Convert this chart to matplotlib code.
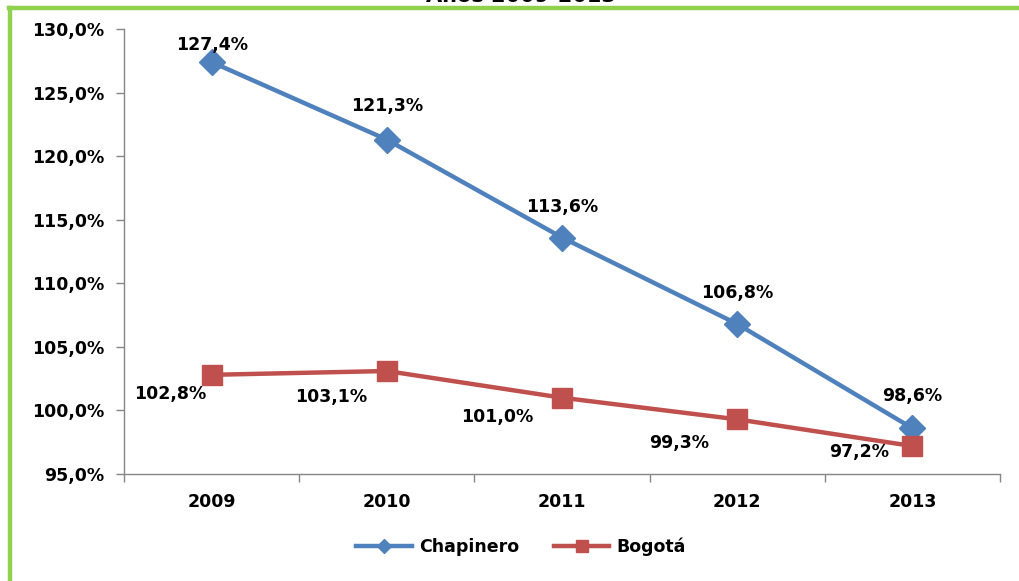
import matplotlib.pyplot as plt
from matplotlib.lines import Line2D

plt.rcParams['font.family'] = ['DejaVu Sans']
plt.rcParams['font.weight'] = 'bold'

years = ['2009', '2010', '2011', '2012', '2013']
chapinero = [127.4, 121.3, 113.6, 106.8, 98.6]
bogota = [102.8, 103.1, 101.0, 99.3, 97.2]
yticks = [95, 100, 105, 110, 115, 120, 125, 130]

# label offsets (points) relative to each marker
chap_off = [(0, 12), (0, 24), (0, 22), (0, 22), (0, 23)]
bog_off = [(-30, -14), (-40, -19), (-47, -14), (-42, -17), (-38, -4)]

blue = '#4F81BD'
red = '#C0504D'
grey = '#868686'
fs = 12.5

fig = plt.figure(figsize=(10.19, 5.81), dpi=100)
ax = fig.add_axes([124 / 1019, 1 - 474 / 581, 876 / 1019, 445 / 581])

x = list(range(len(years)))
ax.plot(x, chapinero, color=blue, lw=3.2, marker='D', ms=13, label='Chapinero')
ax.plot(x, bogota, color=red, lw=3.2, marker='s', ms=15, label='Bogotá')

def fmt(v):
    return ('%.1f%%' % v).replace('.', ',')

for i, v in enumerate(chapinero):
    ax.annotate(fmt(v), (i, v), xytext=chap_off[i], textcoords='offset points',
                ha='center', va='center', fontsize=fs, fontweight='bold')
for i, v in enumerate(bogota):
    ax.annotate(fmt(v), (i, v), xytext=bog_off[i], textcoords='offset points',
                ha='center', va='center', fontsize=fs, fontweight='bold')

ax.set_xlim(-0.5, len(years) - 0.5)
ax.set_ylim(95, 130)
ax.set_yticks(yticks)
ax.set_yticklabels([fmt(v) for v in yticks], fontsize=fs, fontweight='bold')
ax.set_xticks(x)
ax.set_xticklabels(years, fontsize=fs, fontweight='bold')
ax.set_xticks([i - 0.5 for i in range(len(years) + 1)], minor=True)
ax.tick_params(axis='x', which='major', length=0, pad=14)
ax.tick_params(axis='x', which='minor', length=6, color=grey, width=1)
ax.tick_params(axis='y', length=6, color=grey, width=1, pad=8)
for s in ['top', 'right']:
    ax.spines[s].set_visible(False)
for s in ['left', 'bottom']:
    ax.spines[s].set_color(grey)
    ax.spines[s].set_linewidth(1)

fig.legend(handles=ax.get_lines(), loc='center', bbox_to_anchor=(521 / 1019, 1 - 547 / 581),
           ncol=2, frameon=False, prop={'weight': 'bold', 'size': fs},
           handlelength=3.2, handletextpad=0.4, columnspacing=2.0, markerscale=0.55)

# cut-off title and green frame
fig.text(521 / 1019, 1 - 2.5 / 581, 'Años 2009-2013', ha='center', va='baseline',
         fontsize=15, fontweight='bold')
fig.add_artist(Line2D([10 / 1019, 10 / 1019], [0, 1 - 8 / 581], color='#92D050', lw=3.2,
                      transform=fig.transFigure))
fig.add_artist(Line2D([8.5 / 1019, 1], [1 - 8 / 581, 1 - 8 / 581], color='#92D050', lw=3.2,
                      transform=fig.transFigure))

fig.savefig('out.png', dpi=100)
